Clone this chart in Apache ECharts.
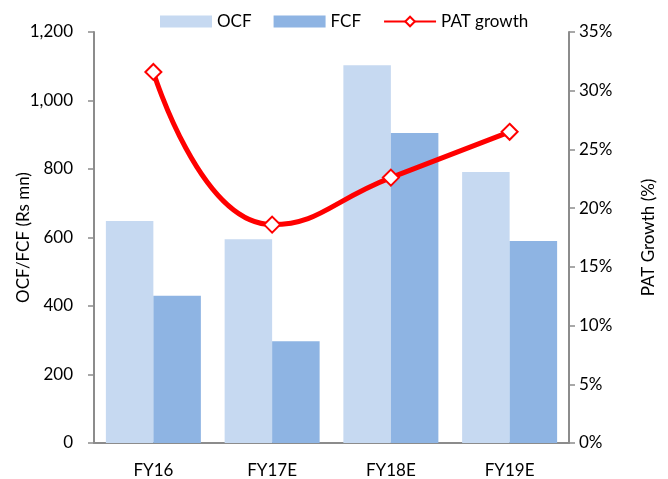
<!DOCTYPE html>
<html>
<head>
<meta charset="utf-8">
<script src="https://cdn.jsdelivr.net/npm/echarts@6/dist/echarts.min.js"></script>
<style>
  html, body { margin: 0; padding: 0; background: #fff; }
  #chart { width: 668px; height: 479px; }
</style>
</head>
<body>
<div id="chart"></div>
<script>
// Cash flow (Rs mn) and PAT growth (%) by fiscal year
const categories = ['FY16', 'FY17E', 'FY18E', 'FY19E'];
const ocf = [648, 595, 1103, 791];
const fcf = [430, 297, 905, 590];
const patGrowth = [31.6, 18.6, 22.6, 26.5];

const FONT = 'Lato';
const axisGray = '#8c8c8c';

const chart = echarts.init(document.getElementById('chart'), null, { renderer: 'canvas' });

chart.setOption({
  animation: false,
  textStyle: { fontFamily: FONT, color: '#000' },
  legend: {
    top: 8,
    left: 155,
    itemGap: 22,
    itemWidth: 52,
    itemHeight: 12,
    textStyle: { fontFamily: FONT, fontSize: 17, color: '#000' },
    data: [
      { name: 'OCF', icon: 'rect' },
      { name: 'FCF', icon: 'rect' },
      { name: 'PAT growth' }
    ]
  },
  grid: {
    left: 94, right: 99, top: 32, bottom: 36,
    containLabel: false,
    outerBoundsMode: 'none'
  },
  xAxis: {
    type: 'category',
    data: categories,
    axisLine: { lineStyle: { color: axisGray, width: 2 } },
    axisTick: { show: false },
    axisLabel: { fontFamily: FONT, fontSize: 17, color: '#000', margin: 19 }
  },
  yAxis: [
    {
      type: 'value',
      min: 0,
      max: 1200,
      interval: 200,
      name: 'OCF/FCF (Rs mn)',
      nameLocation: 'middle',
      nameGap: 62,
      nameMoveOverlap: false,
      nameTextStyle: { fontFamily: FONT, fontSize: 17, color: '#000' },
      axisLine: { show: true, lineStyle: { color: axisGray, width: 2 } },
      axisTick: { show: true, length: 6, lineStyle: { color: axisGray, width: 1.5 } },
      splitLine: { show: false },
      axisLabel: {
        fontFamily: FONT, fontSize: 17, color: '#000', margin: 21,
        formatter: v => v.toLocaleString('en-US')
      }
    },
    {
      type: 'value',
      min: 0,
      max: 35,
      interval: 5,
      name: 'PAT Growth (%)',
      nameLocation: 'middle',
      nameGap: 71,
      nameRotate: 90,
      nameMoveOverlap: false,
      nameTextStyle: { fontFamily: FONT, fontSize: 17, color: '#000' },
      axisLine: { show: true, lineStyle: { color: axisGray, width: 2 } },
      axisTick: { show: true, length: 6, lineStyle: { color: axisGray, width: 1.5 } },
      splitLine: { show: false },
      axisLabel: {
        fontFamily: FONT, fontSize: 17, color: '#000', margin: 10,
        formatter: v => v + '%'
      }
    }
  ],
  series: [
    {
      name: 'OCF',
      type: 'bar',
      data: ocf,
      barGap: '0%',
      barCategoryGap: '20%',
      itemStyle: { color: '#c6d9f1' }
    },
    {
      name: 'FCF',
      type: 'bar',
      data: fcf,
      itemStyle: { color: '#8eb4e3' }
    },
    {
      name: 'PAT growth',
      type: 'line',
      yAxisIndex: 1,
      data: patGrowth,
      smooth: 0.5,
      symbol: 'diamond',
      symbolSize: 16,
      lineStyle: { color: '#ff0000', width: 5 },
      itemStyle: { color: '#ffffff', borderColor: '#ff0000', borderWidth: 2 },
      z: 5
    }
  ]
});
</script>
</body>
</html>
